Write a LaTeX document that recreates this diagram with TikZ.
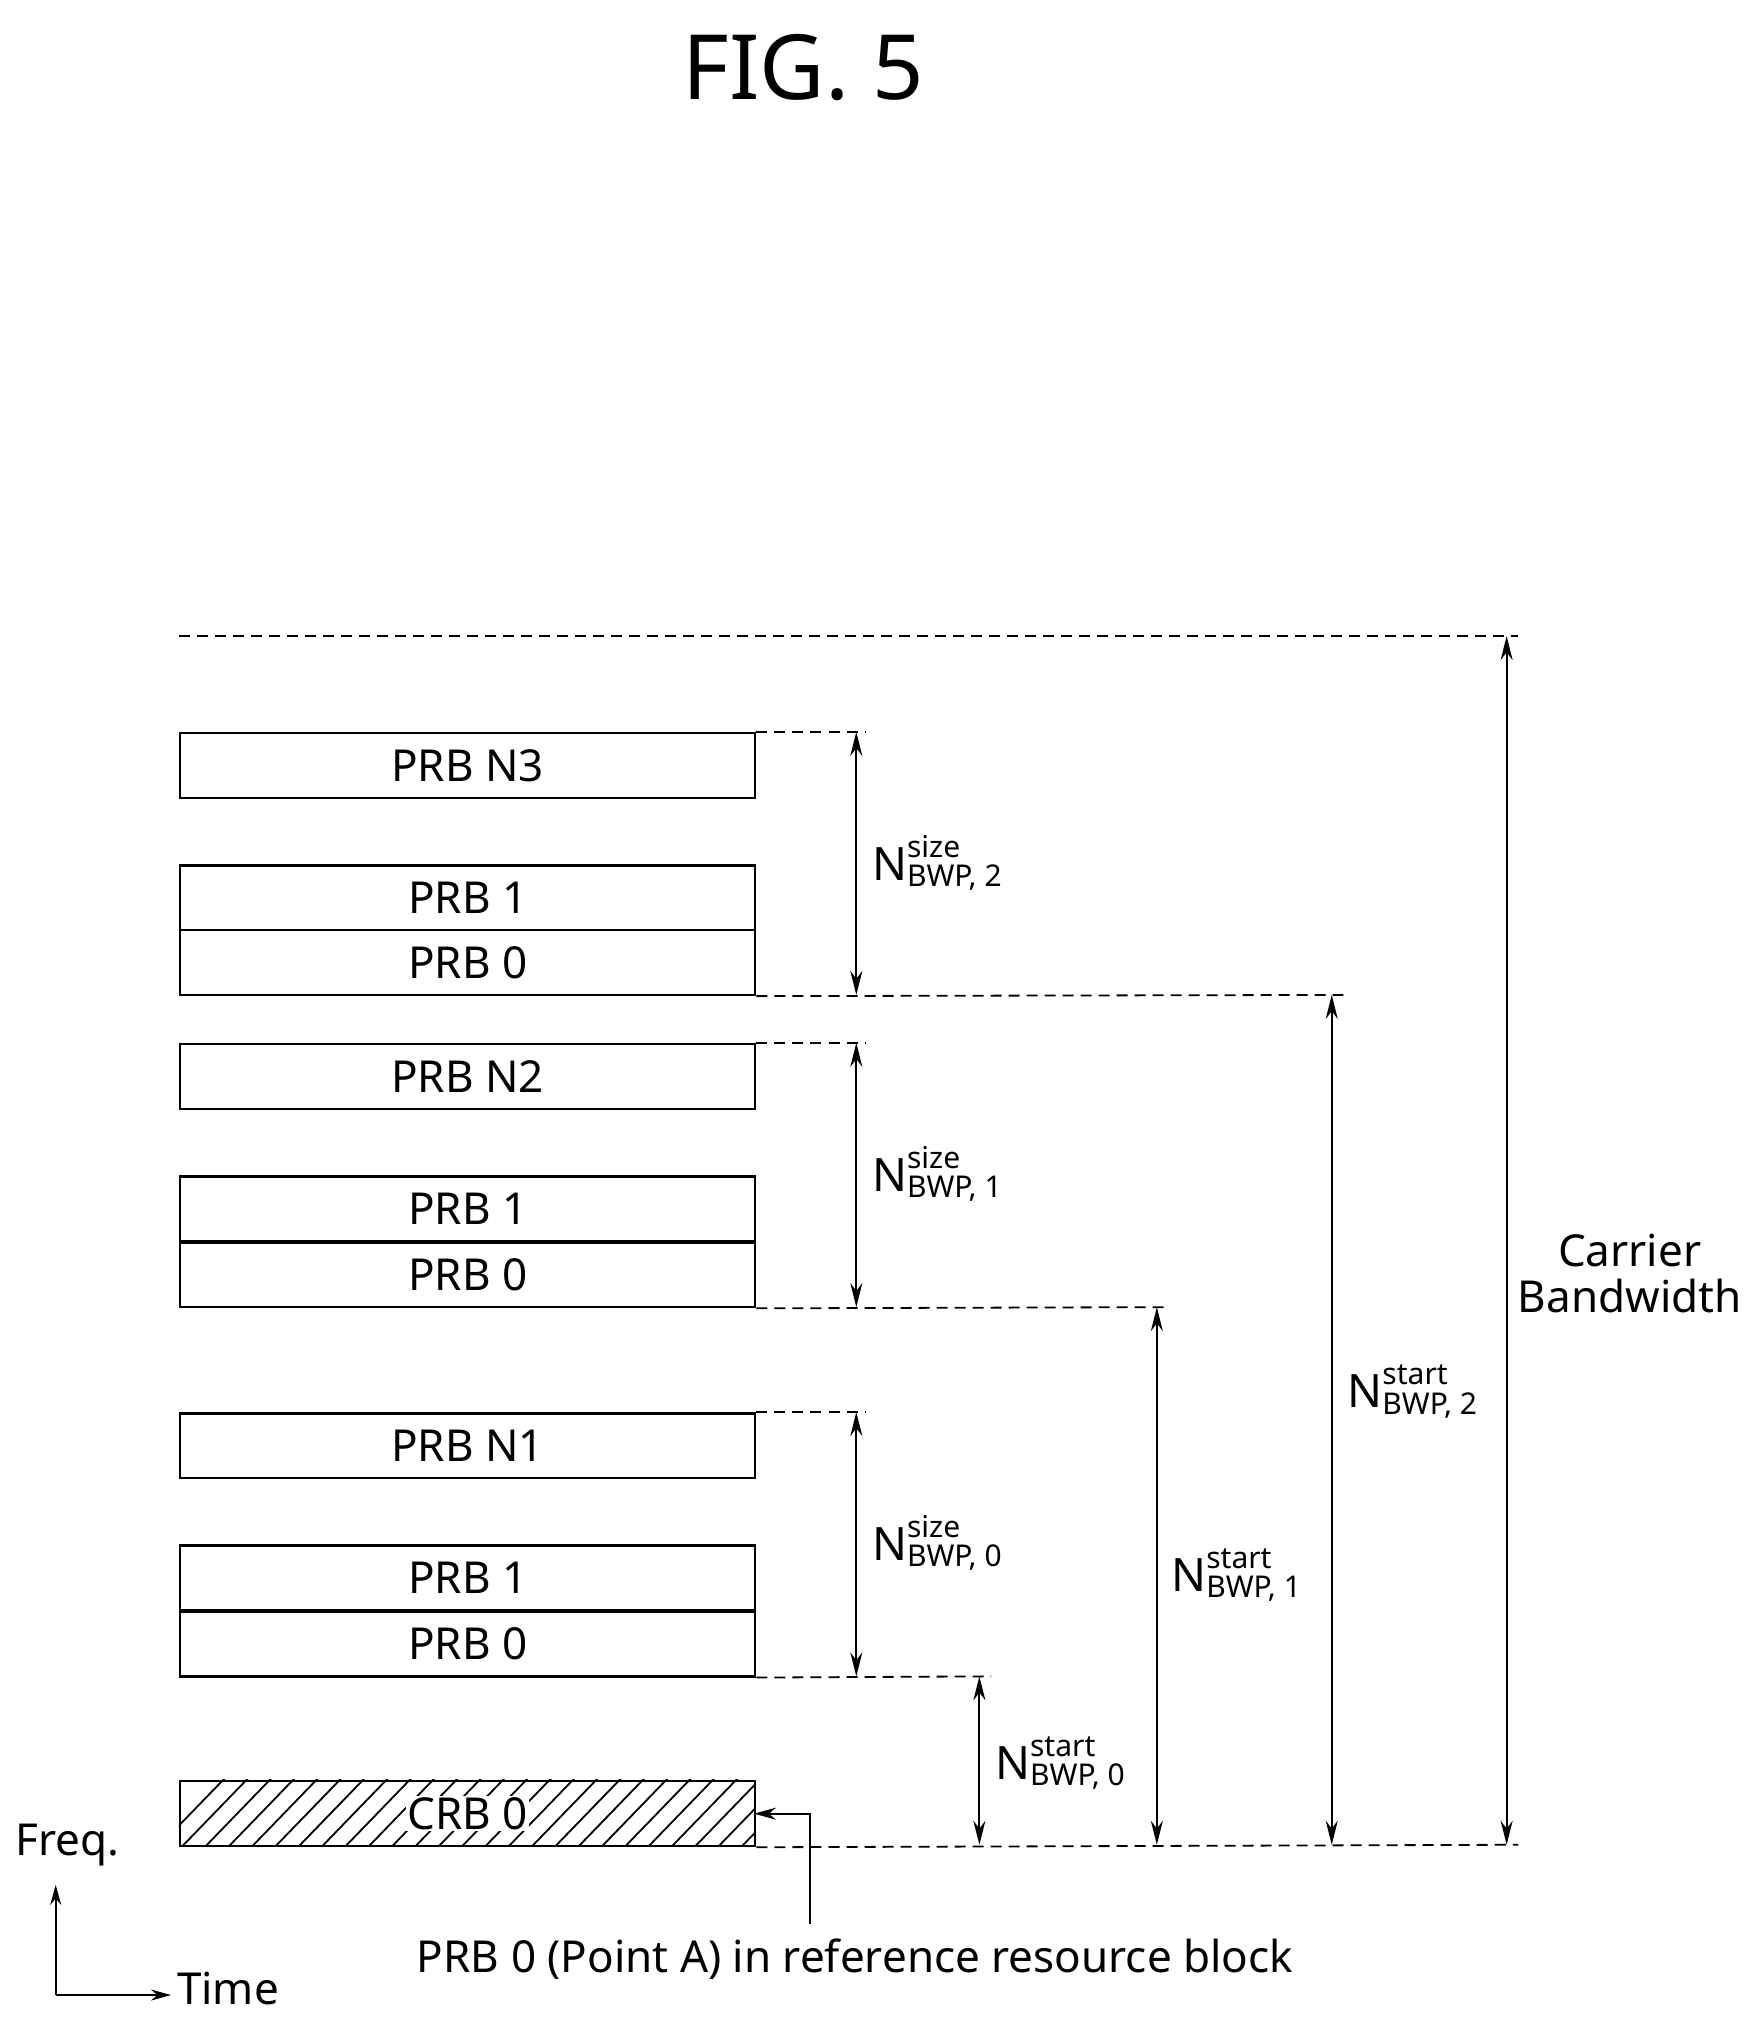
\documentclass[tikz,border=0pt]{standalone}
\usepackage{fontspec}
\setmainfont{Noto Sans}
\usetikzlibrary{arrows.meta}
\newcommand{\NL}[2]{\mbox{N}^{\mbox{\fontsize{30}{32}\selectfont #1}}_{\mbox{\fontsize{30}{32}\selectfont #2}}}
\begin{document}
\begin{tikzpicture}[x=1.295pt,y=-1.295pt,
 box/.style={draw,line width=2.5pt,minimum width=444*1.295pt,minimum height=50*1.295pt,inner sep=0pt,font=\fontsize{44}{46}\selectfont},
 dl/.style={line width=1.8pt,dash pattern=on 11pt off 7pt},
 dim/.style={line width=2pt,{Stealth[length=24pt,width=12pt]}-{Stealth[length=24pt,width=12pt]}},
 lab/.style={font=\fontsize{46}{48}\selectfont,anchor=west,inner sep=0pt},
 txt/.style={font=\fontsize{44}{46}\selectfont}]
\useasboundingbox (0,0) rectangle (1356,1567);
\node[font=\fontsize{90}{96}\selectfont] (title) at (620,52) {FIG. 5};
% boxes
\node[box,anchor=north west] (n3) at (138,565) {PRB N3};
\node[box,anchor=north west] (b21) at (138,667) {PRB 1};
\node[box,anchor=north west] (b20) at (138,717) {PRB 0};
\node[box,anchor=north west] (n2) at (138,805) {PRB N2};
\node[box,anchor=north west] (b11) at (138,907) {PRB 1};
\node[box,anchor=north west] (b10) at (138,958) {PRB 0};
\node[box,anchor=north west] (n1) at (138,1090) {PRB N1};
\node[box,anchor=north west] (b01) at (138,1192) {PRB 1};
\node[box,anchor=north west] (b00) at (138,1243) {PRB 0};
\begin{scope}
\clip (138,1374) rectangle (582,1424);
\foreach \i in {0,...,30} { \draw[line width=1.8pt] (138+\i*18-20,1430) -- (138+\i*18+40,1368); }
\end{scope}
\node[box,anchor=north west] (crb) at (138,1374) {};
\node[txt,fill=white,inner sep=1pt] (crbt) at (crb.center) {CRB 0};
% dashed lines
\coordinate (t0) at (138,491); \coordinate (t1) at (1172,491);
\draw[dl] (t0) -- (t1);
\coordinate (d3) at (668,565); \draw[dl] (n3.north east) -- (d3);
\coordinate (d2b) at (1037,768); \draw[dl] (b20.south east) -- (d2b);
\coordinate (d2) at (668,805); \draw[dl] (n2.north east) -- (d2);
\coordinate (d1b) at (900,1009); \draw[dl] (b10.south east) -- (d1b);
\coordinate (d1) at (668,1090); \draw[dl] (n1.north east) -- (d1);
\coordinate (d0b) at (765,1294); \draw[dl] (b00.south east) -- (d0b);
\coordinate (dc) at (1172,1424); \draw[dl] (crb.south east) -- (dc);
% dims
\coordinate (a1) at (661,565); \coordinate (a2) at (661,768); \draw[dim] (a1) -- (a2);
\coordinate (a3) at (661,805); \coordinate (a4) at (661,1009); \draw[dim] (a3) -- (a4);
\coordinate (a5) at (661,1090); \coordinate (a6) at (661,1294); \draw[dim] (a5) -- (a6);
\coordinate (a7) at (756,1294); \coordinate (a8) at (756,1424); \draw[dim] (a7) -- (a8);
\coordinate (a9) at (893,1009); \coordinate (a10) at (893,1424); \draw[dim] (a9) -- (a10);
\coordinate (a11) at (1028,768); \coordinate (a12) at (1028,1424); \draw[dim] (a11) -- (a12);
\coordinate (a13) at (1163,491); \coordinate (a14) at (1163,1424); \draw[dim] (a13) -- (a14);
\node[lab] (l1) at (673,666) {$\NL{size}{BWP, 2}$};
\node[lab] (l2) at (673,906) {$\NL{size}{BWP, 1}$};
\node[lab] (l3) at (673,1191) {$\NL{size}{BWP, 0}$};
\node[lab] (l4) at (768,1361) {$\NL{start}{BWP, 0}$};
\node[lab] (l5) at (904,1216) {$\NL{start}{BWP, 1}$};
\node[lab] (l6) at (1040,1074) {$\NL{start}{BWP, 2}$};
\node[txt,align=center] (cb) at (1258,983) {Carrier\\Bandwidth};
% point A
\coordinate (pa0) at (625,1485); \coordinate (pa1) at (625,1400); \coordinate (pa2) at (582,1400);
\draw[line width=2pt,-{Stealth[length=22pt,width=12pt]}] (pa0) -- (pa1) -- (pa2);
\node[txt] (pat) at (660,1512) {PRB 0 (Point A) in reference resource block};
% axes
\coordinate (o) at (43,1540); \coordinate (fy) at (43,1455); \coordinate (tx) at (132,1540);
\draw[line width=2pt,-{Stealth[length=20pt,width=11pt]}] (o) -- (fy);
\draw[line width=2pt,-{Stealth[length=20pt,width=11pt]}] (o) -- (tx);
\node[txt] (fq) at (52,1424) {Freq.};
\node[txt] (tm) at (176,1535) {Time};
\end{tikzpicture}
\end{document}
